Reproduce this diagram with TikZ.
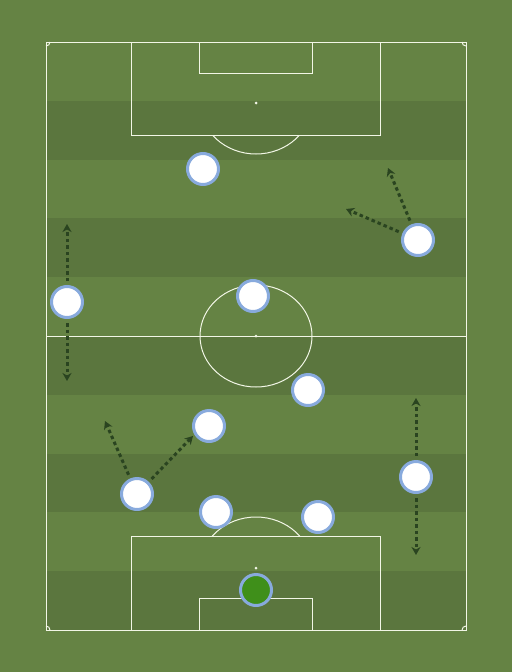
\documentclass[tikz,border=0pt]{standalone}
\usetikzlibrary{arrows.meta}
\definecolor{bg}{HTML}{658344}
\definecolor{darkstripe}{HTML}{5B763E}
\definecolor{pitchline}{HTML}{F2F6E6}
\definecolor{ring}{HTML}{88AADD}
\definecolor{keeper}{HTML}{3F8F1A}
\definecolor{runcol}{HTML}{2A4420}
\begin{document}
\begin{tikzpicture}[x=1pt,y=-1pt,
  fieldline/.style={draw=pitchline,line width=1pt},
  player/.style={circle,draw=ring,line width=3pt,fill=white,minimum size=31pt,inner sep=0pt},
  gk/.style={player,fill=keeper},
  run/.style={draw=runcol,line width=3pt,dash pattern=on 3.5pt off 3pt,shorten <=4pt,
    -{Stealth[length=8pt,width=9pt,inset=2.5pt]}}]
\fill[bg] (0,0) rectangle (512,672);
\useasboundingbox (0,0) rectangle (512,672);
% stripes
\foreach \i in {1,3,5,7,9}{
  \fill[darkstripe] (46,{42+\i*58.8}) rectangle (466,{42+(\i+1)*58.8});
}
% outline
\draw[fieldline] (46,42) rectangle (466,630);
\draw[fieldline] (46,336) -- (466,336);
\draw[fieldline] (256,336) ellipse [x radius=56, y radius=51];
\fill[pitchline] (256,336) circle (1.5);
% top
\draw[fieldline] (131,42) rectangle (380,135);
\draw[fieldline] (199,42) rectangle (312,73);
\fill[pitchline] (256,103) circle (1.5);
\begin{scope}
\clip (0,135) rectangle (512,200);
\draw[fieldline] (256,103) ellipse [x radius=56, y radius=51];
\end{scope}
% bottom
\draw[fieldline] (131,536) rectangle (380,630);
\draw[fieldline] (199,598) rectangle (312,630);
\fill[pitchline] (256,568) circle (1.5);
\begin{scope}
\clip (0,470) rectangle (512,536);
\draw[fieldline] (256,568) ellipse [x radius=56, y radius=51];
\end{scope}
% corners
\draw[fieldline] (50,42) arc[start angle=0,end angle=90,radius=4];
\draw[fieldline] (462,42) arc[start angle=180,end angle=90,radius=4];
\draw[fieldline] (50,630) arc[start angle=0,end angle=-90,radius=4];
\draw[fieldline] (462,630) arc[start angle=180,end angle=270,radius=4];
% run targets
\coordinate (t2a) at (388,168);
\coordinate (t2b) at (346,209);
\coordinate (t3a) at (67,224);
\coordinate (t3b) at (67,381);
\coordinate (t7a) at (105,421);
\coordinate (t7b) at (193,436);
\coordinate (t10a) at (416,398);
\coordinate (t10b) at (416,555);
% players
\node[player] (p1) at (203,169) {};
\node[player] (p2) at (418,240) {};
\node[player] (p3) at (67,302) {};
\node[player] (p4) at (253,296) {};
\node[player] (p5) at (308,390) {};
\node[player] (p6) at (209,426) {};
\node[player] (p7) at (137,494) {};
\node[player] (p8) at (216,512) {};
\node[player] (p9) at (318,517) {};
\node[player] (p10) at (416,477) {};
\node[gk] (p11) at (256,590) {};
% runs
\draw[run] (p2) -- (t2a);
\draw[run] (p2) -- (t2b);
\draw[run] (p3) -- (t3a);
\draw[run] (p3) -- (t3b);
\draw[run] (p7) -- (t7a);
\draw[run] (p7) -- (t7b);
\draw[run] (p10) -- (t10a);
\draw[run] (p10) -- (t10b);
\end{tikzpicture}
\end{document}
